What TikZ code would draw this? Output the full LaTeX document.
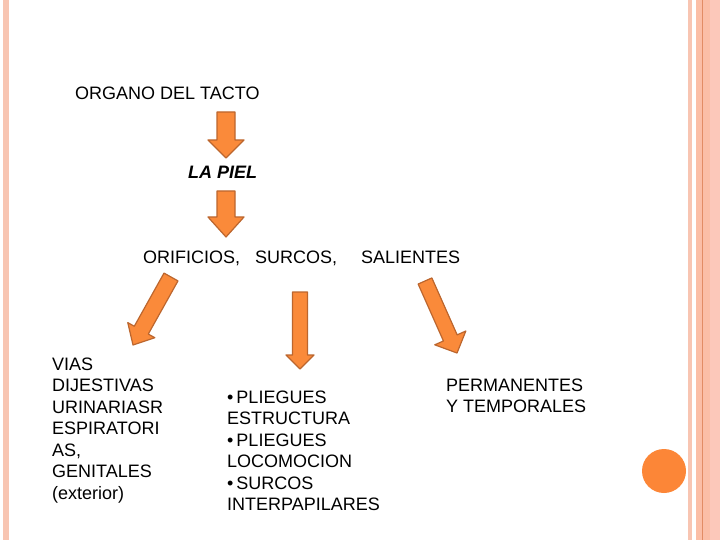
\documentclass[tikz,border=0pt]{standalone}
\usepackage{fontspec}
\setsansfont{Liberation Sans}
\usetikzlibrary{calc}
\definecolor{arrfill}{RGB}{250,138,58}
\definecolor{arrline}{RGB}{188,102,46}
\definecolor{dotfill}{RGB}{252,134,55}
\definecolor{edgeA}{RGB}{248,197,178}
\definecolor{edgeB}{RGB}{251,190,166}
\definecolor{edgeC}{RGB}{226,140,100}
\definecolor{edgeD}{RGB}{252,200,186}
% block arrow: start, tip, shaft half width, head half width, head length
\newcommand{\blockarr}[5]{%
  \coordinate (hb) at ($(#2)!#5!(#1)$);
  \draw[barr] ($(#1)!#3!90:(#2)$) -- ($(hb)!#3!90:(#2)$) -- ($(hb)!#4!90:(#2)$)
    -- (#2) -- ($(hb)!#4!-90:(#2)$) -- ($(hb)!#3!-90:(#2)$) -- ($(#1)!#3!-90:(#2)$) -- cycle;}

\begin{document}
\begin{tikzpicture}[x=1pt,y=-1pt,font=\sffamily,
  lbl/.style={font=\sffamily\fontsize{18}{21.5}\selectfont, inner sep=0pt, align=left},
  barr/.style={fill=arrfill, draw=arrline, line width=1.2pt, line join=round}]

\useasboundingbox (0,0) rectangle (720,540);
\fill[white] (0,0) rectangle (720,540);

% ===== slide borders =====
\fill[edgeA] (3,0) rectangle (9,540);
\fill[edgeA] (688,0) rectangle (692,540);
\fill[edgeB] (696,0) rectangle (710,540);
\fill[edgeC] (702,0) rectangle (703.2,540);
\fill[edgeD] (710,0) rectangle (720,540);
\fill[dotfill] (664,471) circle (22);

% ===== top chain =====
\node[lbl, anchor=base west] (tacto) at (75,100) {ORGANO DEL TACTO};
\node[lbl, anchor=base west, font=\sffamily\bfseries\itshape\fontsize{18}{21.5}\selectfont] (piel) at (188,178.5) {LA PIEL};
\node[lbl, anchor=base west] (orif) at (143,263.5) {ORIFICIOS,};
\node[lbl, anchor=base west] (surc) at (255,263.5) {SURCOS,};
\node[lbl, anchor=base west] (sal) at (361,263.5) {SALIENTES};

\coordinate (a1s) at (226,112); \coordinate (a1t) at (226,158);
\coordinate (a2s) at (226,191); \coordinate (a2t) at (226,237);
\blockarr{a1s}{a1t}{9pt}{18pt}{18pt}
\blockarr{a2s}{a2t}{9pt}{18pt}{20pt}

% ===== three branches =====
\coordinate (a3s) at (171,277); \coordinate (a3t) at (133,345);
\coordinate (a4s) at (300,292); \coordinate (a4t) at (300,369);
\coordinate (a5s) at (425,281); \coordinate (a5t) at (457,353);
\blockarr{a3s}{a3t}{8pt}{15.5pt}{17pt}
\blockarr{a4s}{a4t}{7.5pt}{14pt}{14pt}
\blockarr{a5s}{a5t}{7.5pt}{17pt}{16.5pt}

\node[lbl, anchor=north west] (vias) at (52,357.5)
  {VIAS\\DIJESTIVAS\\URINARIASR\\ESPIRATORI\\AS,\\GENITALES\\(exterior)};
\node[lbl, anchor=north west] (plieg) at (227,390.5)
  {•\,PLIEGUES\\ESTRUCTURA\\•\,PLIEGUES\\LOCOMOCION\\•\,SURCOS\\INTERPAPILARES};
\node[lbl, anchor=north west] (perm) at (446,378.5)
  {PERMANENTES\\Y TEMPORALES};

\end{tikzpicture}
\end{document}
